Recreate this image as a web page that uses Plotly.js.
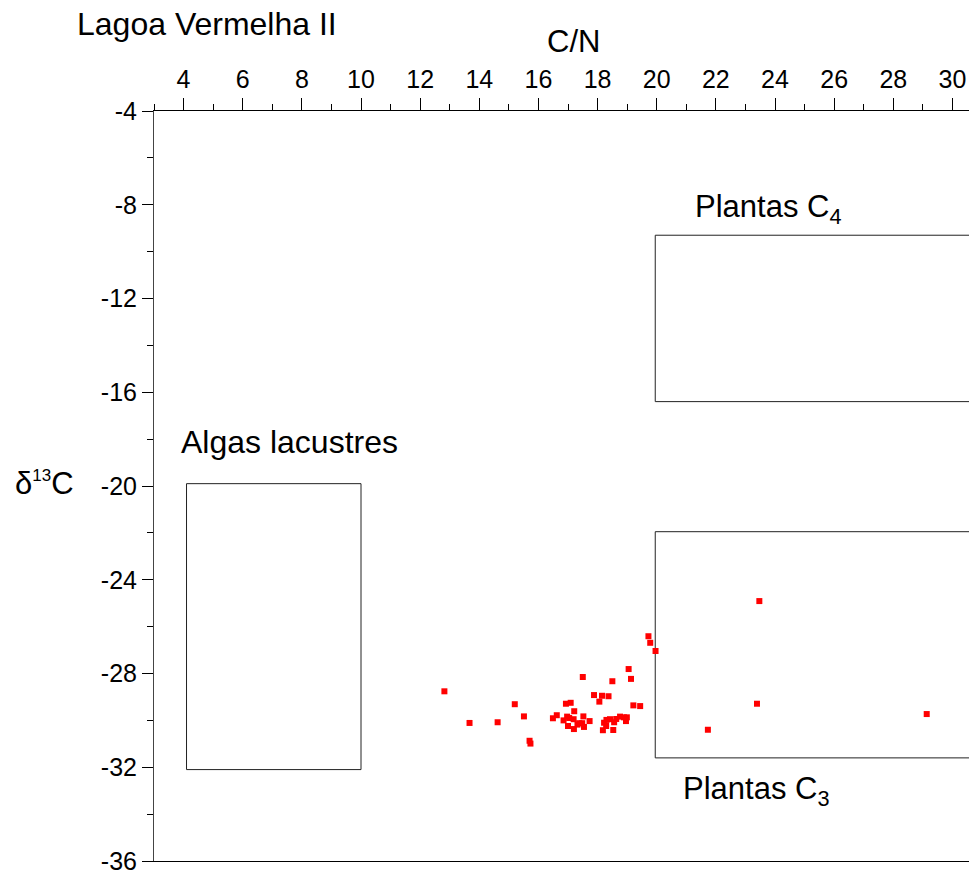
<!DOCTYPE html>
<html>
<head>
<meta charset="utf-8">
<script src="https://cdn.plot.ly/plotly-3.0.1.min.js"></script>
<style>html,body{margin:0;padding:0;background:#fff;}#chart{width:969px;height:872px;}</style>
</head>
<body>
<div id="chart"></div>
<script>
// C/N ratio (x) and delta 13C (y) of the Lagoa Vermelha II samples
const cnValues = [19.72, 19.78, 19.96, 19.05, 17.50, 18.50, 19.13, 12.82, 17.88, 18.15,
  18.37, 18.06, 16.93, 17.09, 15.20, 19.21, 19.44, 17.21, 15.51, 16.62,
  16.49, 16.97, 17.04, 17.52, 16.85, 17.19, 17.73, 17.38, 17.48, 17.00,
  17.32, 17.54, 17.20, 13.67, 14.62, 15.70, 15.73, 18.18, 18.53, 18.22,
  18.30, 18.42, 18.56, 18.29, 18.63, 18.76, 18.89, 18.99, 18.96,
  23.47, 23.39, 21.73, 29.13];
const d13cValues = [-26.41, -26.69, -27.04, -27.81, -28.15, -28.33, -28.23, -28.76, -28.92, -28.95,
  -28.97, -29.20, -29.29, -29.25, -29.31, -29.36, -29.39, -29.61, -29.83, -29.78,
  -29.91, -29.84, -29.90, -29.83, -30.00, -29.95, -30.03, -30.12, -30.12, -30.24,
  -30.18, -30.28, -30.37, -30.11, -30.08, -30.87, -30.99, -30.42, -30.41, -30.10,
  -29.98, -29.95, -30.08, -30.24, -29.94, -29.84, -29.87, -29.87, -30.03,
  -24.91, -29.29, -30.40, -29.73];

// Axis tick labels (hyphen minus as in the reference)
const xTickVals = [4, 6, 8, 10, 12, 14, 16, 18, 20, 22, 24, 26, 28, 30];
const xTickText = ['4', '6', '8', '10', '12', '14', '16', '18', '20', '22', '24', '26', '28', '30'];
const yTickVals = [-36, -32, -28, -24, -20, -16, -12, -8, -4];
const yTickText = ['-36', '-32', '-28', '-24', '-20', '-16', '-12', '-8', '-4'];

// Source fields: [C/N min, C/N max], [d13C min, d13C max]
const boxNames = ["Algas lacustres", "Plantas C4", "Plantas C3"];
const boxCN = [[4.1, 10.0], [19.95, 31], [19.95, 31]];
const boxD13C = [[-32.1, -19.9], [-16.4, -9.3], [-31.6, -21.95]];

const W = 969, H = 872;
const M = {l: 154, r: 0, t: 111, b: 11};
const pw = W - M.l - M.r, ph = H - M.t - M.b;
const px = v => (v - M.l) / pw;
const py = v => (H - M.b - v) / ph;

const FONT = "Arial, 'Liberation Sans', sans-serif";

const shapes = boxNames.map((n, i) => ({
  type: 'rect', xref: 'x', yref: 'y',
  x0: boxCN[i][0], x1: boxCN[i][1], y0: boxD13C[i][0], y1: boxD13C[i][1],
  line: {color: '#222', width: 1}, fillcolor: 'rgba(0,0,0,0)', layer: 'below'
}));

const ann = (text, x, y, size, anchor) => ({
  text: text, xref: 'paper', yref: 'paper', x: px(x), y: py(y),
  xanchor: anchor || 'left', yanchor: 'middle', showarrow: false,
  font: {family: FONT, size: size, color: '#000'}, borderpad: 0
});

const annotations = [
  ann('Lagoa Vermelha II', 76, 24, 32),
  ann('C/N', 573, 42, 31, 'center'),
  ann('Plantas C<sub>4</sub>', 694, 209, 31),
  ann('Algas lacustres', 180, 442, 32),
  ann('Plantas C<sub>3</sub>', 682, 791, 31),
  ann('δ<sup><span style="font-size:17px">13</span></sup>C', 14, 484, 31)
];

const trace = {
  x: cnValues, y: d13cValues, type: 'scatter', mode: 'markers',
  marker: {symbol: 'square', size: 6, color: '#ff0000'},
  cliponaxis: false, hoverinfo: 'x+y'
};

const layout = {
  width: W, height: H, margin: M,
  paper_bgcolor: '#fff', plot_bgcolor: '#fff',
  showlegend: false,
  font: {family: FONT, size: 25, color: '#000'},
  xaxis: {
    side: 'top', range: [3, 30.56], tickmode: 'array', tickvals: xTickVals, ticktext: xTickText,
    ticks: 'outside', ticklen: 12, tickwidth: 1, tickcolor: '#000',
    minor: {dtick: 1, tick0: 0, ticks: 'outside', ticklen: 6, tickwidth: 1, tickcolor: '#000'},
    showline: true, linecolor: '#000', linewidth: 1, mirror: true,
    showgrid: false, zeroline: false, ticklabeloverflow: 'allow',
    tickfont: {family: FONT, size: 25, color: '#000'}
  },
  yaxis: {
    range: [-36, -4], tickmode: 'array', tickvals: yTickVals, ticktext: yTickText,
    ticks: 'outside', ticklen: 11, tickwidth: 1, tickcolor: '#000',
    minor: {dtick: 2, tick0: 0, ticks: 'outside', ticklen: 6, tickwidth: 1, tickcolor: '#000'},
    showline: true, linecolor: '#444', linewidth: 1,
    showgrid: false, zeroline: false, ticklabeloverflow: 'allow',
    tickfont: {family: FONT, size: 25, color: '#000'}
  },
  shapes: shapes,
  annotations: annotations
};

Plotly.newPlot('chart', [trace], layout, {displayModeBar: false, staticPlot: true});
</script>
</body>
</html>
